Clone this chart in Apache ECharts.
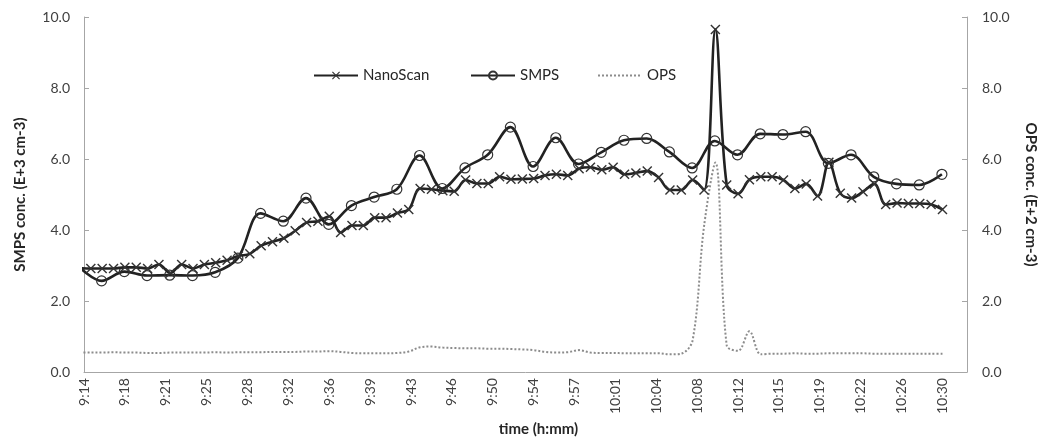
<!DOCTYPE html>
<html>
<head>
<meta charset="utf-8">
<script src="https://cdn.jsdelivr.net/npm/echarts@6/dist/echarts.min.js"></script>
<style>
    html, body { margin: 0; padding: 0; background: #fff; }
    #chart { width: 1046px; height: 442px; }
</style>
</head>
<body>
<div id="chart"></div>
<script>
// Axis origin is 9:14, x values are minutes after that
const axisStartClock = 9 * 60 + 14;
const tickStepMinutes = 3.6;
const axisEndMinutes = 77.76;

// Sampling (minutes after 9:14 of first sample, sample step in minutes)
const nanoFirstTime = -0.4;
const nanoStep = 1;
const smpsFirstTime = -0.45;
const smpsStep = 2;

// NanoScan (E+3 cm-3), one sample per minute
const nanoscan = [
    2.93, 2.92, 2.92, 2.92, 2.95, 2.95, 2.92, 3.03, 2.79, 3.03,
    2.92, 3.03, 3.08, 3.15, 3.27, 3.33, 3.56, 3.67, 3.77, 3.98,
    4.21, 4.25, 4.39, 3.93, 4.13, 4.13, 4.35, 4.35, 4.48, 4.58,
    5.17, 5.15, 5.11, 5.09, 5.41, 5.31, 5.31, 5.50, 5.43, 5.44,
    5.45, 5.54, 5.57, 5.54, 5.73, 5.77, 5.70, 5.77, 5.57, 5.61,
    5.66, 5.48, 5.13, 5.13, 5.41, 5.13, 9.65, 5.27, 5.02, 5.42,
    5.50, 5.50, 5.41, 5.17, 5.30, 4.96, 5.91, 5.04, 4.90, 5.08,
    5.30, 4.72, 4.76, 4.75, 4.75, 4.72, 4.58
];

// SMPS (E+3 cm-3), one scan every two minutes
const smps = [
    2.97, 2.57, 2.83, 2.72, 2.73, 2.72, 2.81, 3.21, 4.47, 4.25,
    4.90, 4.16, 4.69, 4.93, 5.15, 6.10, 5.17, 5.75, 6.12, 6.90,
    5.79, 6.60, 5.86, 6.19, 6.53, 6.58, 6.20, 5.75, 6.51, 6.12,
    6.71, 6.69, 6.77, 5.88, 6.12, 5.50, 5.30, 5.27, 5.57
];

// OPS (E+2 cm-3), same times as NanoScan
const ops = [
    0.55, 0.55, 0.55, 0.56, 0.55, 0.55, 0.54, 0.54, 0.55, 0.55,
    0.55, 0.55, 0.56, 0.55, 0.56, 0.56, 0.56, 0.57, 0.57, 0.57,
    0.58, 0.58, 0.59, 0.57, 0.54, 0.53, 0.53, 0.53, 0.54, 0.58,
    0.70, 0.72, 0.69, 0.68, 0.67, 0.67, 0.66, 0.66, 0.65, 0.64,
    0.62, 0.57, 0.55, 0.56, 0.62, 0.55, 0.54, 0.54, 0.53, 0.53,
    0.53, 0.53, 0.50, 0.52, 0.90, 4.10, 5.90, 0.75, 0.60, 1.15,
    0.50, 0.52, 0.52, 0.53, 0.52, 0.52, 0.53, 0.53, 0.53, 0.53,
    0.52, 0.52, 0.52, 0.52, 0.52, 0.52, 0.52
];

const seriesNames = ['NanoScan', 'SMPS', 'OPS'];
const legendLefts = [308, 465, 592];

const fontFamily = 'Lato, "Open Sans", sans-serif';
const textColor = '#404040';
const axisColor = '#a6a6a6';
const lineColor = '#222';

// Cross marker drawn as a thin filled X
const crossSymbol = 'path://M0,1L1,0L5,4L9,0L10,1L6,5L10,9L9,10L5,6L1,10L0,9L4,5Z';

/**
 * Pairs each value with its sample time
 */
function withTimes(values, first, step) {
    return values.map((v, i) => [first + i * step, v]);
}

/**
 * Minutes after 9:14 to an h:mm label
 */
function clockLabel(value) {
    const total = Math.round(axisStartClock + value);
    const h = Math.floor(total / 60);
    const m = total % 60;
    return h + ':' + (m < 10 ? '0' : '') + m;
}

const chart = echarts.init(document.getElementById('chart'), null, { renderer: 'canvas' });

const nameStyle = {
    fontFamily: fontFamily,
    fontWeight: 'bold',
    fontSize: 15,
    color: '#262626'
};

const yAxisBase = {
    type: 'value',
    min: 0,
    max: 10,
    interval: 2,
    nameLocation: 'middle',
    nameTextStyle: nameStyle,
    axisLine: {
        show: true,
        lineStyle: { color: axisColor, width: 1 }
    },
    axisTick: {
        show: true,
        inside: true,
        length: 5,
        lineStyle: { color: axisColor }
    },
    splitLine: { show: false },
    axisLabel: {
        fontFamily: fontFamily,
        fontSize: 14,
        color: textColor,
        formatter: (value) => value.toFixed(1)
    }
};

// One legend per entry so each sits where the original has it
const legends = seriesNames.map((name, i) => ({
    top: 63,
    left: legendLefts[i],
    itemWidth: 44,
    itemHeight: 10,
    textStyle: {
        fontFamily: fontFamily,
        fontSize: 15,
        color: '#262626'
    },
    data: [name === 'OPS' ? { name: name, itemStyle: { opacity: 0 } } : name]
}));

const options = {
    backgroundColor: '#fff',
    animation: false,
    grid: {
        left: 84,
        right: 73,
        top: 17,
        bottom: 62
    },
    legend: legends,
    xAxis: {
        type: 'value',
        min: 0,
        max: axisEndMinutes,
        interval: tickStepMinutes,
        name: 'time (h:mm)',
        nameLocation: 'middle',
        nameGap: 44,
        nameTextStyle: { ...nameStyle, padding: [0, 0, 0, 26] },
        axisLine: {
            show: true,
            lineStyle: { color: axisColor, width: 1 }
        },
        axisTick: { show: false },
        splitLine: { show: false },
        axisLabel: {
            rotate: 90,
            margin: 6,
            fontFamily: fontFamily,
            fontSize: 14,
            color: textColor,
            showMaxLabel: false,
            formatter: clockLabel
        }
    },
    yAxis: [
        {
            ...yAxisBase,
            position: 'left',
            name: 'SMPS conc. (E+3 cm-3)',
            nameGap: 56,
            nameRotate: 90,
            axisLabel: { ...yAxisBase.axisLabel, margin: 14 }
        },
        {
            ...yAxisBase,
            position: 'right',
            name: 'OPS conc. (E+2 cm-3)',
            nameGap: 56,
            nameRotate: -90,
            axisLabel: { ...yAxisBase.axisLabel, margin: 15 }
        }
    ],
    series: [
        {
            name: 'NanoScan',
            type: 'line',
            yAxisIndex: 0,
            smooth: 0.35,
            symbol: crossSymbol,
            symbolSize: 10,
            showAllSymbol: true,
            lineStyle: { color: lineColor, width: 2.6 },
            itemStyle: { color: '#333', borderWidth: 0 },
            data: withTimes(nanoscan, nanoFirstTime, nanoStep),
            z: 3
        },
        {
            name: 'SMPS',
            type: 'line',
            yAxisIndex: 0,
            smooth: 0.35,
            symbol: 'circle',
            symbolSize: 10,
            showAllSymbol: true,
            lineStyle: { color: lineColor, width: 2.6 },
            itemStyle: { color: 'rgba(255,255,255,0)', borderColor: '#333', borderWidth: 1.2 },
            data: withTimes(smps, smpsFirstTime, smpsStep),
            z: 2
        },
        {
            name: 'OPS',
            type: 'line',
            yAxisIndex: 1,
            smooth: 0.35,
            symbol: 'none',
            lineStyle: { color: '#8c8c8c', width: 2, type: [2, 2] },
            itemStyle: { color: '#8c8c8c' },
            data: withTimes(ops, nanoFirstTime, nanoStep),
            z: 1
        }
    ]
};

chart.setOption(options);
</script>
</body>
</html>
